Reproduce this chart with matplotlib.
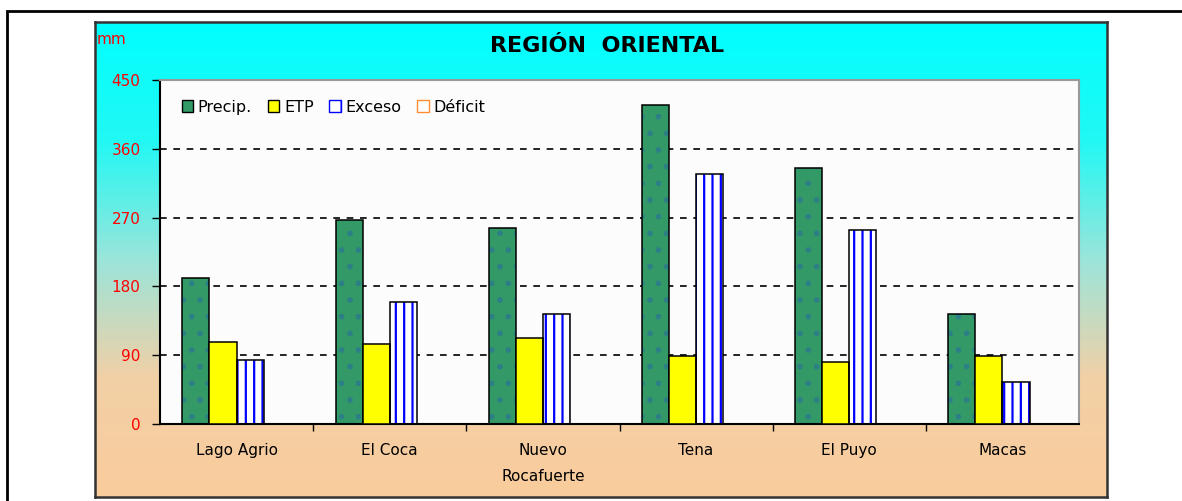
import matplotlib.pyplot as plt
import numpy as np
from matplotlib.patches import Patch, Rectangle
from matplotlib.colors import LinearSegmentedColormap

# data (mm)
stations = ["Lago Agrio", "El Coca", "Nuevo\nRocafuerte", "Tena", "El Puyo", "Macas"]
precip = [191, 267, 256, 417, 335, 144]
etp = [107, 105, 112, 89, 81, 89]
exceso = [84, 160, 144, 327, 254, 55]
deficit = [0, 0, 0, 0, 0, 0]
yticks = [0, 90, 180, 270, 360, 450]

W, H = 1182, 501
plt.rcParams['hatch.linewidth'] = 1.6
fig = plt.figure(figsize=(W / 100, H / 100), dpi=100)

# outer frame (runs off the right and bottom edges)
fig.patches.append(Rectangle((7 / W, -0.05), 1.2, 1 - 11 / H + 0.05, transform=fig.transFigure,
                             fill=False, edgecolor='black', linewidth=2, zorder=0))

# chart box with gradient
bx0, bx1, by0, by1 = 95, 1107, 22, 497
ax_bg = fig.add_axes([bx0 / W, 1 - by1 / H, (bx1 - bx0) / W, (by1 - by0) / H], zorder=0)
cmap = LinearSegmentedColormap.from_list('bg', ['#00FFFF', '#22F8F4', '#9BE5DA', '#F2D0A6', '#FACC9C'])
grad = np.linspace(0, 1, 256).reshape(-1, 1)
ax_bg.imshow(grad, aspect='auto', cmap=cmap, extent=[0, 1, 0, 1], origin='upper')
ax_bg.set_xticks([])
ax_bg.set_yticks([])
for s in ax_bg.spines.values():
    s.set_color('#333333')
    s.set_linewidth(1.8)

# plot area
px0, px1, py0, py1 = 160, 1079, 80, 424
ax = fig.add_axes([px0 / W, 1 - py1 / H, (px1 - px0) / W, (py1 - py0) / H], zorder=1)
ax.set_facecolor('#FCFCFC')

x = np.arange(len(stations))
w = 0.177
green, yellow, blue, orange = '#339966', '#FFFF00', '#0000FF', '#FF8C33'

ax.bar(x - 1.5 * w, precip, w, color=green, hatch='.', edgecolor='#2C7F86', linewidth=0, zorder=2)
ax.bar(x - 1.5 * w, precip, w, fill=False, edgecolor='black', linewidth=1.1, zorder=3)
ax.bar(x - 0.5 * w, etp, w, color=yellow, edgecolor='black', linewidth=1.1, zorder=3)
ax.bar(x + 0.5 * w, exceso, w, color='white', hatch='||', edgecolor=blue, linewidth=0, zorder=2)
ax.bar(x + 0.5 * w, exceso, w, fill=False, edgecolor='black', linewidth=1.1, zorder=3)
ax.bar(x + 1.5 * w, deficit, w, color=orange, edgecolor='black', linewidth=1.1, zorder=3)

ax.set_xlim(-0.5, len(stations) - 0.5)
ax.set_ylim(0, 450)
ax.set_yticks(yticks)
ax.set_yticklabels([str(v) for v in yticks], color='red', fontsize=11)
ax.tick_params(axis='y', direction='out', length=6, width=1, pad=8)
ax.set_xticks(x)
ax.set_xticklabels(stations, fontsize=11, linespacing=1.9)
ax.tick_params(axis='x', which='major', length=0, pad=14)
ax.set_xticks(np.arange(0.5, len(stations) - 0.5, 1), minor=True)
ax.tick_params(axis='x', which='minor', direction='out', length=5, width=1)

for v in yticks[1:-1]:
    ax.axhline(v, color='black', linestyle=(0, (4, 4)), linewidth=1.2, zorder=1)

ax.spines['left'].set_color('black')
ax.spines['bottom'].set_color('black')
ax.spines['top'].set_color('#999999')
ax.spines['right'].set_color('#999999')
for s in ax.spines.values():
    s.set_linewidth(1.5)

handles = [Patch(facecolor=green, edgecolor='black', label='Precip.'),
           Patch(facecolor=yellow, edgecolor='black', label='ETP'),
           Patch(facecolor='white', edgecolor=blue, hatch='|', label='Exceso'),
           Patch(facecolor='white', edgecolor=orange, label='Déficit')]
ax.legend(handles=handles, loc='upper left', ncol=4, frameon=False, fontsize=11.5,
          handlelength=0.7, handleheight=0.7, handletextpad=0.3, columnspacing=1.0,
          bbox_to_anchor=(0.008, 0.985))

fig.text(607 / W, 1 - 46 / H, 'REGIÓN  ORIENTAL', ha='center', va='center',
         fontsize=16, fontweight='bold')
fig.text(97 / W, 1 - 40 / H, 'mm', color='red', fontsize=11, ha='left', va='center')

fig.savefig('out.png', dpi=100)
